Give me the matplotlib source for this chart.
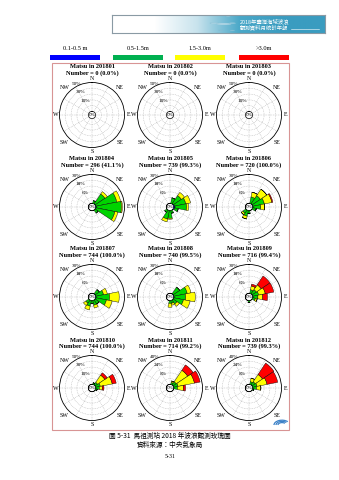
import numpy as np
import matplotlib
matplotlib.use('Agg')
import matplotlib.pyplot as plt
from matplotlib.patches import Rectangle, Arc, Circle
from matplotlib.colors import LinearSegmentedColormap

# ---------------- data ----------------
dirs = ['N', 'NNE', 'NE', 'ENE', 'E', 'ESE', 'SE', 'SSE',
        'S', 'SSW', 'SW', 'WSW', 'W', 'WNW', 'NW', 'NNW']
months = ['201801', '201802', '201803', '201804', '201805', '201806',
          '201807', '201808', '201809', '201810', '201811', '201812']
numbers = [0, 0, 0, 296, 739, 720, 744, 740, 716, 744, 714, 739]
valid_pct = ['0.0', '0.0', '0.0', '41.1', '99.3', '100.0',
             '100.0', '99.5', '99.4', '100.0', '99.2', '99.3']
scale_max = [50, 50, 50, 30, 30, 30, 30, 30, 30, 50, 40, 40]
classes = ['0.1-0.5 m', '0.5-1.5m', '1.5-3.0m', '>3.0m']

zero = [0] * 16
#            N  NNE NE ENE  E ESE SE SSE S SSW SW WSW W WNW NW NNW
blue_1804 = [0, 0, 0.5, 0.5, 0.8, 0.5, 0, 0, 0, 0, 0, 0, 0, 0, 0, 0]
green_1804 = [0, 3, 12, 22, 26, 20, 4, 0, 0, 0, 0, 0, 0, 0, 0, 0]
yellow_1804 = [0, 0, 3, 4, 1, 3, 0, 0, 0, 0, 0, 0, 0, 0, 0, 0]
red_1804 = zero

blue_1805 = [0, 0, 0.5, 1, 1.5, 1, 0, 0, 0, 0, 0, 0, 0, 0, 0, 0]
green_1805 = [0, 6, 10, 12, 12, 4, 0, 3, 8, 9, 3, 0, 0, 0, 0, 0]
yellow_1805 = [0, 0, 4, 5, 2, 0, 0, 0, 1, 3, 0, 0, 0, 0, 0, 0]
red_1805 = zero

blue_1806 = [0, 0, 0.5, 0.5, 0.5, 0, 0, 0, 0, 0, 0, 0, 0, 0, 0, 0]
green_1806 = [0, 7, 10, 12, 8, 4, 0, 0, 3, 6, 4, 0, 0, 0, 0, 0]
yellow_1806 = [0, 5, 8, 8, 4, 0, 0, 0, 0, 3, 2, 0, 0, 0, 0, 0]
red_1806 = [0, 0, 0, 1, 0, 0, 0, 0, 0, 0, 0, 0, 0, 0, 0, 0]

blue_1807 = [0, 0, 0.5, 0.5, 0.5, 0.5, 0, 0, 0, 0, 0, 0, 0, 0, 0, 0]
green_1807 = [0, 0, 5, 8, 14, 11, 5, 5, 3, 6, 4, 0, 0, 0, 0, 0]
yellow_1807 = [0, 0, 0, 4, 10, 6, 0, 3, 0, 4, 3, 0, 0, 0, 0, 0]
red_1807 = zero

blue_1808 = [0, 0, 0.5, 0.5, 0.5, 0.5, 0, 0, 0, 0, 0, 0, 0, 0, 0, 0]
green_1808 = [0, 0, 8, 14, 12, 10, 5, 3, 3, 0, 0, 0, 0, 0, 0, 0]
yellow_1808 = [0, 0, 0, 4, 10, 7, 3, 2, 4, 0, 0, 0, 0, 0, 0, 0]
red_1808 = zero

blue_1809 = [0, 0, 0.5, 0.5, 0.5, 0, 0, 0, 0, 0, 0, 0, 0, 0, 0, 0]
green_1809 = [0, 4, 5, 6, 5, 3, 0, 0, 2, 0, 0, 0, 0, 0, 0, 0]
yellow_1809 = [0, 4, 6, 7, 5, 2, 0, 0, 0, 0, 0, 0, 0, 0, 0, 0]
red_1809 = [0, 2, 11, 9, 5, 0, 0, 0, 0, 0, 0, 0, 0, 0, 0, 0]

blue_1810 = [0, 0, 0.5, 0.5, 0.5, 0, 0, 0, 0, 0, 0, 0, 0, 0, 0, 0]
green_1810 = [0, 3, 5, 8, 6, 3, 0, 0, 0, 0, 0, 0, 0, 0, 0, 0]
yellow_1810 = [0, 0, 15, 21, 5, 0, 0, 0, 0, 0, 0, 0, 0, 0, 0, 0]
red_1810 = [0, 0, 5, 7, 3, 0, 0, 0, 0, 0, 0, 0, 0, 0, 0, 0]

blue_1811 = [0, 0, 0.5, 0.5, 0.5, 0, 0, 0, 0, 0, 0, 0, 0, 0, 0, 0]
green_1811 = [0, 3, 5, 6, 5, 0, 0, 0, 0, 0, 0, 0, 0, 0, 0, 0]
yellow_1811 = [0, 2, 19, 23, 8, 0, 0, 0, 0, 0, 0, 0, 0, 0, 0, 0]
red_1811 = [0, 0, 9, 8, 3, 0, 0, 0, 0, 0, 0, 0, 0, 0, 0, 0]

blue_1812 = [0, 0, 0.5, 0.5, 0.5, 0, 0, 0, 0, 0, 0, 0, 0, 0, 0, 0]
green_1812 = [0, 4, 5, 6, 5, 2, 0, 0, 0, 0, 0, 0, 0, 0, 0, 0]
yellow_1812 = [0, 5, 12, 14, 6, 0, 0, 0, 0, 0, 0, 0, 0, 0, 0, 0]
red_1812 = [0, 0, 19, 15, 0, 0, 0, 0, 0, 0, 0, 0, 0, 0, 0, 0]

rose_data = {
    '201801': [zero, zero, zero, zero],
    '201802': [zero, zero, zero, zero],
    '201803': [zero, zero, zero, zero],
    '201804': [blue_1804, green_1804, yellow_1804, red_1804],
    '201805': [blue_1805, green_1805, yellow_1805, red_1805],
    '201806': [blue_1806, green_1806, yellow_1806, red_1806],
    '201807': [blue_1807, green_1807, yellow_1807, red_1807],
    '201808': [blue_1808, green_1808, yellow_1808, red_1808],
    '201809': [blue_1809, green_1809, yellow_1809, red_1809],
    '201810': [blue_1810, green_1810, yellow_1810, red_1810],
    '201811': [blue_1811, green_1811, yellow_1811, red_1811],
    '201812': [blue_1812, green_1812, yellow_1812, red_1812],
}

# ---------------- styling ----------------
W, H = 339, 480
fig = plt.figure(figsize=(W / 100, H / 100), dpi=100)
fig.patch.set_facecolor('white')
SERIF = ['Liberation Serif', 'DejaVu Serif']
CJK = ['Noto Sans CJK TC', 'DejaVu Sans']
rose_colors = ['#0000ff', '#00d400', '#ffff00', '#ff0000']
legend_colors = ['#0000ff', '#00b050', '#ffff00', '#ff0000']


def fx(x):
    return x / W


def fy(y):
    return 1 - y / H


# page-level artists axis
bg = fig.add_axes([0, 0, 1, 1])
bg.set_xlim(0, W)
bg.set_ylim(H, 0)
bg.axis('off')

# header banner with gradient
ban = fig.add_axes([fx(112), fy(33), (325 - 112) / W, (33 - 15) / H])
cmap = LinearSegmentedColormap.from_list('ban', ['#ffffff', '#ffffff', '#c8e3ed', '#4aa8c8', '#3a9cc0', '#3a9cc0'])
ban.imshow(np.linspace(0, 1, 256)[None, :], aspect='auto', cmap=cmap, extent=[0, 1, 0, 1])
ban.set_xlim(0, 1)
ban.set_ylim(0, 1)
ban.set_xticks([])
ban.set_yticks([])
for s in ban.spines.values():
    s.set_edgecolor('#8a9aa4')
    s.set_linewidth(0.8)
ban.text(0.60, 0.68, '2018年臺灣海域波浪', color='white', fontsize=3.9,
         family=CJK, ha='left', va='center', transform=ban.transAxes)
ban.text(0.60, 0.30, '觀測資料月統計年報', color='white', fontsize=3.9,
         family=CJK, ha='left', va='center', transform=ban.transAxes)
ban.plot([0.84, 0.97], [0.22, 0.22], color='white', lw=0.4, transform=ban.transAxes)
for (bx, by, br) in [(0.48, 0.55, 0.02), (0.525, 0.5, 0.035), (0.565, 0.55, 0.015),
                     (0.545, 0.9, 0.01), (0.51, 0.15, 0.01), (0.565, 0.15, 0.01)]:
    ban.add_patch(Circle((bx, by), br, transform=ban.transAxes, facecolor='white',
                         edgecolor='#7ab8d0', lw=0.3))

# legend
leg_x = [75, 138, 200, 264]
for lab, cx, col in zip(classes, leg_x, legend_colors):
    bg.text(cx, 48.5, lab, fontsize=4.6, family=SERIF, ha='center', va='center')
    bg.add_patch(Rectangle((cx - 25, 55), 50, 5, facecolor=col, edgecolor='none'))

# frame
bg.add_patch(Rectangle((51.5, 62.5), 237.5, 367, facecolor='none', edgecolor='#d89494', lw=0.8))

# small logo in the bottom-right corner of the frame
for k, rr in enumerate([4, 6, 8]):
    bg.add_patch(Arc((282, 425), rr * 2, rr * 1.2, theta1=180, theta2=330,
                     color='#3c82c8', lw=0.9))

# rose layout
col_x = [92, 170, 249]
row_y = [115, 207, 297, 388]
R = 32.5
hole = 0.11
thetas = np.deg2rad(np.arange(16) * 22.5)
width = np.deg2rad(22.5)

for i, m in enumerate(months):
    cx = col_x[i % 3]
    cy = row_y[i // 3]
    M = scale_max[i]
    ax = fig.add_axes([fx(cx - R), fy(cy + R), 2 * R / W, 2 * R / H], projection='polar')
    ax.set_theta_zero_location('N')
    ax.set_theta_direction(-1)
    ax.set_ylim(0, M)
    ax.set_rorigin(-M * hole / (1 - hole))
    ax.set_xticks([])
    ax.set_yticks([])
    ax.grid(False)
    ax.patch.set_alpha(0)
    ax.spines['polar'].set_linewidth(0.6)
    ax.spines['inner'].set_linewidth(0.5)
    # dashed grid
    tt = np.linspace(0, 2 * np.pi, 200)
    for k in range(1, 5):
        ax.plot(tt, np.full_like(tt, M * k / 5), color='#a0a0a0', lw=0.3, ls=(0, (2, 2)))
    for a in np.arange(0, 360, 30):
        ax.plot([np.deg2rad(a)] * 2, [0, M], color='#a0a0a0', lw=0.3, ls=(0, (2, 2)))
    # bars
    bottom = np.zeros(16)
    for vals, col in zip(rose_data[m], rose_colors):
        v = np.array(vals, dtype=float)
        if v.sum() > 0:
            ax.bar(thetas, v, width=width, bottom=bottom, color=col,
                   edgecolor='black', linewidth=0.3, zorder=3)
        bottom += v
    # ring labels
    lab_ang = np.deg2rad(-27)
    for k, frac in [(1, 0.47), (3, 0.80), (5, 1.07)]:
        r = (frac - hole) / (1 - hole) * M
        ax.text(lab_ang, r, f'{int(M * k / 5)}%', fontsize=3.8, family=SERIF,
                ha='center', va='center', clip_on=False)
    ax.text(0, -M * hole / (1 - hole), '0%', fontsize=3.8, family=SERIF, ha='center', va='center', zorder=5)
    # direction labels
    for d, ang in zip(['N', 'NE', 'E', 'SE', 'S', 'SW', 'W', 'NW'], range(0, 360, 45)):
        rr = 1.12 if ang % 90 == 0 else 1.2
        a = np.deg2rad(ang)
        bg.text(cx + rr * R * np.sin(a), cy - rr * R * np.cos(a), d, fontsize=4.3,
                family=SERIF, ha='center', va='center')
    # title
    bg.text(cx, cy - 48, f'Matsu in {m}', fontsize=4.6, family=SERIF, weight='bold',
            ha='center', va='center')
    bg.text(cx, cy - 41.5, f'Number = {numbers[i]} ({valid_pct[i]}%)', fontsize=4.6,
            family=SERIF, weight='bold', ha='center', va='center')

# caption
bg.text(170, 436, '圖 5-31  馬祖測站 2018 年波浪觀測玫瑰圖', fontsize=4.8, family=CJK,
        ha='center', va='center')
bg.text(170, 445, '資料來源：中央氣象局', fontsize=4.8, family=CJK, ha='center', va='center')
bg.text(170, 457, '5-31', fontsize=4.2, family=SERIF, ha='center', va='center')

fig.savefig('out.png', dpi=100, facecolor='white')
